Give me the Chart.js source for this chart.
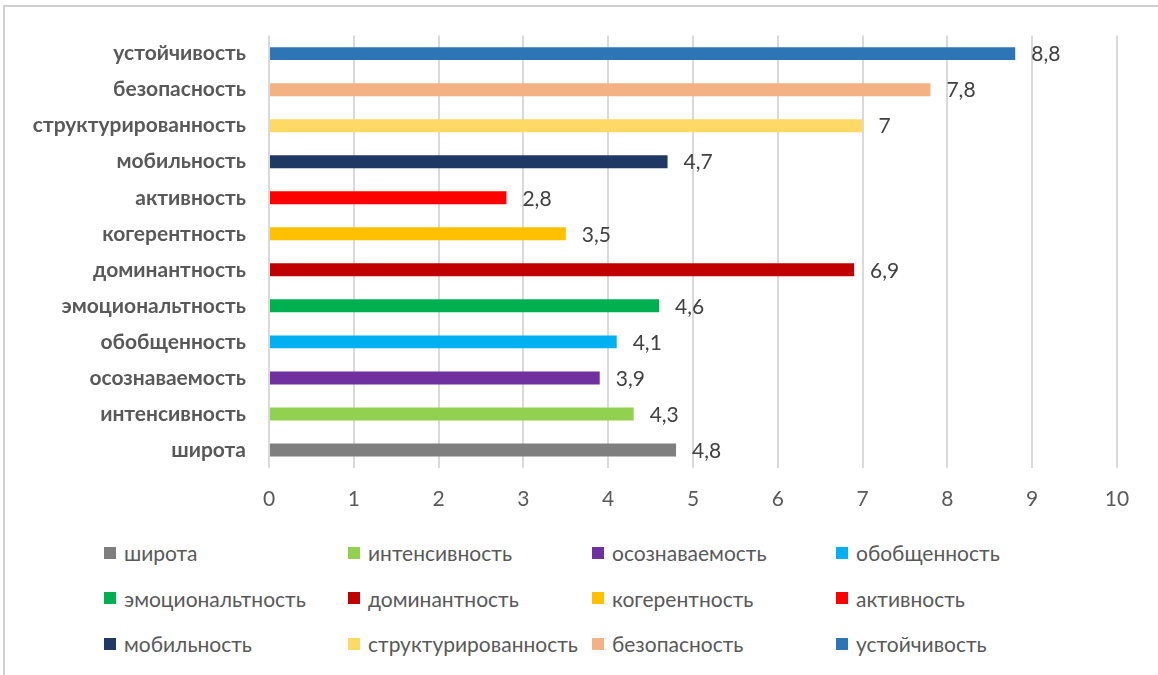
<!DOCTYPE html>
<html>
<head>
<meta charset="utf-8">
<script src="https://cdn.jsdelivr.net/npm/chart.js@4"></script>
<style>
  body { margin: 0; background: #fff; width: 1158px; height: 675px; overflow: hidden; position: relative; font-family: Lato, "Liberation Sans", sans-serif; }
  #frame { position: absolute; left: 3px; top: 5px; width: 1200px; height: 700px; border-top: 2px solid #d0d0d0; border-left: 2px solid #d0d0d0; }
  #wrap { position: absolute; left: 0; top: 0; width: 1158px; height: 525px; }
  #legend { position: absolute; left: 104px; top: 530px; display: grid; grid-template-columns: repeat(4, 244px); grid-auto-rows: 45.5px; }
  .item { display: flex; align-items: center; color: #595959; font-size: 21px; white-space: nowrap; }
  .box { width: 12px; height: 12px; margin-right: 8px; flex: none; }
</style>
</head>
<body>
<div id="frame"></div>
<div id="wrap"><canvas id="grafico"></canvas></div>
<div id="legend"></div>
<script>
// данные (снизу вверх, как в легенде)
const categorias = ['широта', 'интенсивность', 'осознаваемость', 'обобщенность', 'эмоциональтность', 'доминантность', 'когерентность', 'активность', 'мобильность', 'структурированность', 'безопасность', 'устойчивость'];
const valores = [4.8, 4.3, 3.9, 4.1, 4.6, 6.9, 3.5, 2.8, 4.7, 7, 7.8, 8.8];
const cores = ['#7f7f7f', '#92d050', '#7030a0', '#00b0f0', '#00b050', '#c00000', '#ffc000', '#ff0000', '#1f3864', '#ffd966', '#f4b183', '#2e75b6'];
const ticksX = [0, 1, 2, 3, 4, 5, 6, 7, 8, 9, 10];

// подписи значений у конца столбцов
const rotulos = {
    id: 'rotulos',
    afterDatasetsDraw(chart) {
        const ctx = chart.ctx;
        const meta = chart.getDatasetMeta(0);
        ctx.save();
        ctx.font = '21px Lato, "Liberation Sans", sans-serif';
        ctx.fillStyle = '#404040';
        ctx.textBaseline = 'middle';
        meta.data.forEach((bar, i) => {
            ctx.fillText(String(valores[i]).replace('.', ','), bar.x + 16, bar.y + 1);
        });
        ctx.restore();
    }
};

const chart = new Chart(document.getElementById('grafico'), {
    type: 'bar',
    data: {
        labels: categorias,
        datasets: [{ data: valores, backgroundColor: cores, categoryPercentage: 1, barPercentage: 0.36 }]
    },
    options: {
        indexAxis: 'y',
        responsive: true,
        maintainAspectRatio: false,
        animation: false,
        layout: { padding: { top: 35, right: 41, left: 0, bottom: 0 } },
        plugins: { legend: { display: false }, tooltip: { enabled: false } },
        scales: {
            x: {
                min: 0, max: 10,
                afterBuildTicks: s => { s.ticks = ticksX.map(v => ({ value: v })); },
                afterFit: s => { s.height = 57; },
                grid: { color: '#d9d9d9', lineWidth: 2, drawTicks: false },
                border: { display: false },
                ticks: { padding: 19, color: '#595959', font: { family: 'Lato', size: 21 } }
            },
            y: {
                reverse: true,
                afterFit: s => { s.width = 269; },
                grid: { display: false, drawTicks: false },
                border: { display: false },
                ticks: { padding: 23, color: '#595959', font: { family: 'Lato', size: 21, weight: 'bold' } }
            }
        }
    },
    plugins: [rotulos]
});

// легенда сеткой 4 колонки
const leg = document.getElementById('legend');
categorias.forEach((c, i) => {
    leg.innerHTML += `<div class="item"><span class="box" style="background:${cores[i]}"></span>${c}</div>`;
});
</script>
</body>
</html>
